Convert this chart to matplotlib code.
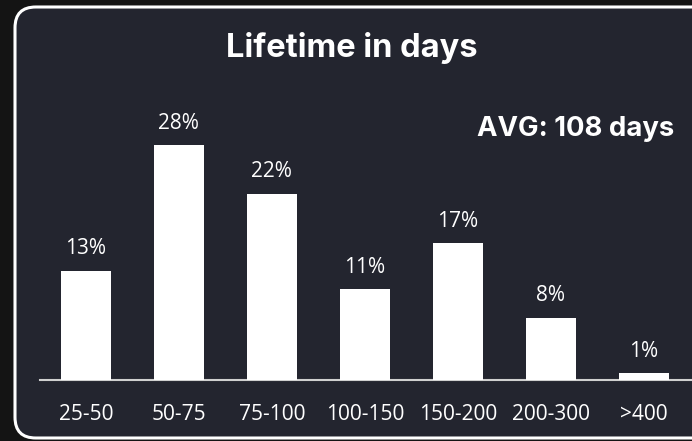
import matplotlib
matplotlib.use("Agg")
import matplotlib.pyplot as plt
from matplotlib.patches import FancyBboxPatch

# data
categories = ["25-50", "50-75", "75-100", "100-150", "150-200", "200-300", ">400"]
shares = [13.0, 28.0, 22.2, 10.8, 16.3, 7.4, 0.8]
share_labels = ["13%", "28%", "22%", "11%", "17%", "8%", "1%"]
avg_days = 108

W, H = 692, 441
fig = plt.figure(figsize=(W / 100, H / 100), dpi=100)
fig.patch.set_facecolor("#141414")

# rounded panel, runs off the right edge
panel = FancyBboxPatch((15 / W, 1 - 438 / H), 700 / W, 431 / H,
                       boxstyle="round,pad=0,rounding_size=0.03",
                       transform=fig.transFigure, facecolor="#23252f",
                       edgecolor="white", linewidth=2.2, mutation_aspect=W / H,
                       zorder=-1)
fig.patches.append(panel)

ax = fig.add_axes([39.5 / W, 1 - 380 / H, 1 - 39.5 / W, 280 / H])
ax.set_facecolor("none")
x = list(range(len(categories)))
ax.bar(x, shares, width=0.54, color="white", zorder=3)
for xi, v, lab in zip(x, shares, share_labels):
    ax.annotate(lab, (xi, v), xytext=(0, 22), textcoords="offset pixels",
                ha="center", va="center", color="white",
                fontsize=15, family="Open Sans")

ax.set_xlim(-0.5, 6.52)
ax.set_ylim(0, 280 / 8.39)
ax.set_xticks(x)
ax.set_xticklabels(categories, color="white", fontsize=15, family="Open Sans")
ax.tick_params(axis="x", length=0, pad=17)
ax.set_yticks([])
for s in ["top", "right", "left"]:
    ax.spines[s].set_visible(False)
ax.spines["bottom"].set_color("#d0d0d0")
ax.spines["bottom"].set_linewidth(1.5)

fig.text(352 / W, 1 - 48 / H, "Lifetime in days", ha="center", va="center",
         color="white", fontsize=23.5, fontweight="bold", family="Inter")
fig.text(674 / W, 1 - 129 / H, "AVG: %d days" % avg_days, ha="right", va="center",
         color="white", fontsize=19.8, fontweight="bold", family="Inter")

fig.savefig("out.png", dpi=100, facecolor=fig.get_facecolor())
